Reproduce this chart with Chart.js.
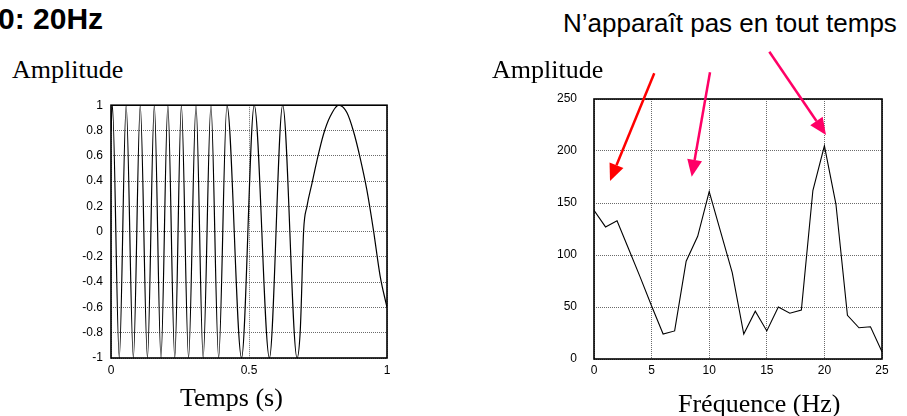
<!DOCTYPE html>
<html>
<head>
<meta charset="utf-8">
<script src="https://cdn.jsdelivr.net/npm/chart.js@4/dist/chart.umd.min.js"></script>
<style>
    body { margin: 0; background: #fff; width: 907px; height: 416px; overflow: hidden; position: relative; }
    canvas { position: absolute; }
    .txt { position: absolute; white-space: nowrap; line-height: 1; color: #000; }
    .serif { font-family: "Liberation Serif", "Times New Roman", serif; font-size: 26px; }
    .sans { font-family: "Liberation Sans", Arial, sans-serif; }
</style>
</head>
<body>
<canvas id="time-chart" width="420" height="326" style="left:0;top:90px;"></canvas>
<canvas id="freq-chart" width="427" height="376" style="left:480px;top:40px;"></canvas>

<div class="txt sans" style="left:-2px;top:4px;font-size:30px;font-weight:bold;">0: 20Hz</div>
<div class="txt sans" style="left:563px;top:10px;font-size:26px;">N’apparaît pas en tout temps</div>
<div class="txt serif" style="left:12px;top:57px;">Amplitude</div>
<div class="txt serif" style="left:492px;top:57px;">Amplitude</div>
<div class="txt serif" style="left:180px;top:385px;">Temps (s)</div>
<div class="txt serif" style="left:678px;top:391px;">Fréquence (Hz)</div>

<script>
// Time signal: peaks, troughs and a few points on the slow hump
const timeValues = [0, 0.005, 0.03, 0.055, 0.081, 0.106, 0.132, 0.157, 0.181, 0.206, 0.231,
    0.255, 0.281, 0.308, 0.334, 0.362, 0.39, 0.42, 0.473, 0.519, 0.574, 0.622, 0.674,
    0.686, 0.698, 0.71, 0.728, 0.746, 0.77, 0.794, 0.825, 0.855, 0.879, 0.903, 0.927,
    0.951, 0.975, 1.0];
const amplitudeValues = [0.8, 1, -1, 1, -1, 1, -1, 1, -1, 1, -1,
    1, -1, 1, -1, 1, -1, 1, -1, 1, -1, 1, -1,
    -0.77, 0.01, 0.2, 0.38, 0.56, 0.77, 0.91, 1, 0.94, 0.79, 0.58, 0.33,
    0.01, -0.35, -0.6];

// Spectrum
const frequencies = [0, 1, 2, 3, 4, 5, 6, 7, 8, 9, 10, 11, 12, 13, 14, 15, 16, 17, 18, 19, 20, 21, 22, 23, 24, 25];
const spectrum = [143, 127, 133, 106, 79, 51, 24, 27, 94, 118, 161, 122, 83, 24, 46, 27, 50, 44, 47, 162, 205, 149, 42, 30, 31, 7];

// Arrows on the spectrum, in data units: [tailX, tailY, tipX, tipY, colour]
const arrows = [
    [5.23, 274.7, 1.39, 171.2, '#ff0000'],
    [10.07, 275.7, 8.48, 175.3, '#ff0066'],
    [15.22, 295.5, 20.14, 215.4, '#ff0066']
];

Chart.defaults.font.family = '"Liberation Sans", Arial, sans-serif';
Chart.defaults.font.size = 12;
Chart.defaults.color = '#000';

const plotBox = {
    id: 'plotBox',
    afterDatasetsDraw(chart) {
        const a = chart.chartArea;
        const ctx = chart.ctx;
        ctx.save();
        ctx.strokeStyle = '#000';
        ctx.lineWidth = 1.6;
        ctx.strokeRect(a.left, a.top, a.right - a.left, a.bottom - a.top);
        ctx.restore();
    }
};

const arrowPlugin = {
    id: 'arrows',
    afterDraw(chart) {
        const ctx = chart.ctx;
        const xs = chart.scales.x, ys = chart.scales.y;
        ctx.save();
        arrows.forEach(([x0, y0, x1, y1, col]) => {
            const ax = xs.getPixelForValue(x0), ay = ys.getPixelForValue(y0);
            const bx = xs.getPixelForValue(x1), by = ys.getPixelForValue(y1);
            const ang = Math.atan2(by - ay, bx - ax);
            const len = 17, half = 7.5;
            const baseX = bx - len * Math.cos(ang), baseY = by - len * Math.sin(ang);
            ctx.strokeStyle = col;
            ctx.fillStyle = col;
            ctx.lineWidth = 2.5;
            ctx.beginPath();
            ctx.moveTo(ax, ay);
            ctx.lineTo(baseX, baseY);
            ctx.stroke();
            ctx.beginPath();
            ctx.moveTo(bx, by);
            ctx.lineTo(baseX + half * Math.sin(ang), baseY - half * Math.cos(ang));
            ctx.lineTo(baseX - half * Math.sin(ang), baseY + half * Math.cos(ang));
            ctx.closePath();
            ctx.fill();
        });
        ctx.restore();
    }
};

function fmt(v) {
    return String(Number(v.toFixed(2)));
}

function gridOpts() {
    return { color: '#6a6a6a', lineWidth: 1, drawTicks: false };
}

// Time domain chart
new Chart(document.getElementById('time-chart'), {
    type: 'line',
    data: {
        datasets: [{
            data: timeValues.map((t, i) => ({ x: t, y: amplitudeValues[i] })),
            borderColor: '#000',
            borderWidth: 1.2,
            pointRadius: 0,
            cubicInterpolationMode: 'monotone',
            fill: false
        }]
    },
    options: {
        responsive: false,
        animation: false,
        events: [],
        layout: { padding: { left: 0, top: 12, right: 33, bottom: 0 } },
        plugins: { legend: { display: false }, tooltip: { enabled: false } },
        scales: {
            x: {
                type: 'linear', min: 0, max: 1,
                grid: gridOpts(),
                border: { display: false, dash: [1, 1] },
                ticks: { stepSize: 0.5, padding: 5, maxRotation: 0, callback: fmt },
                afterFit: s => { s.height = 58; }
            },
            y: {
                min: -1, max: 1,
                grid: gridOpts(),
                border: { display: false, dash: [1, 1] },
                ticks: { stepSize: 0.2, padding: 8, callback: fmt },
                afterFit: s => { s.width = 111; }
            }
        }
    },
    plugins: [plotBox]
});

// Spectrum chart
new Chart(document.getElementById('freq-chart'), {
    type: 'line',
    data: {
        datasets: [{
            data: frequencies.map((f, i) => ({ x: f, y: spectrum[i] })),
            borderColor: '#000',
            borderWidth: 1.1,
            pointRadius: 0,
            tension: 0,
            fill: false
        }]
    },
    options: {
        responsive: false,
        animation: false,
        events: [],
        layout: { padding: { left: 0, top: 59, right: 25, bottom: 0 } },
        plugins: { legend: { display: false }, tooltip: { enabled: false } },
        scales: {
            x: {
                type: 'linear', min: 0, max: 25,
                grid: gridOpts(),
                border: { display: false, dash: [1, 1] },
                ticks: { stepSize: 5, padding: 4, maxRotation: 0 },
                afterFit: s => { s.height = 57; }
            },
            y: {
                min: 0, max: 250,
                grid: gridOpts(),
                border: { display: false, dash: [1, 1] },
                ticks: { stepSize: 50, padding: 17 },
                afterFit: s => { s.width = 114; }
            }
        }
    },
    plugins: [plotBox, arrowPlugin]
});
</script>
</body>
</html>
